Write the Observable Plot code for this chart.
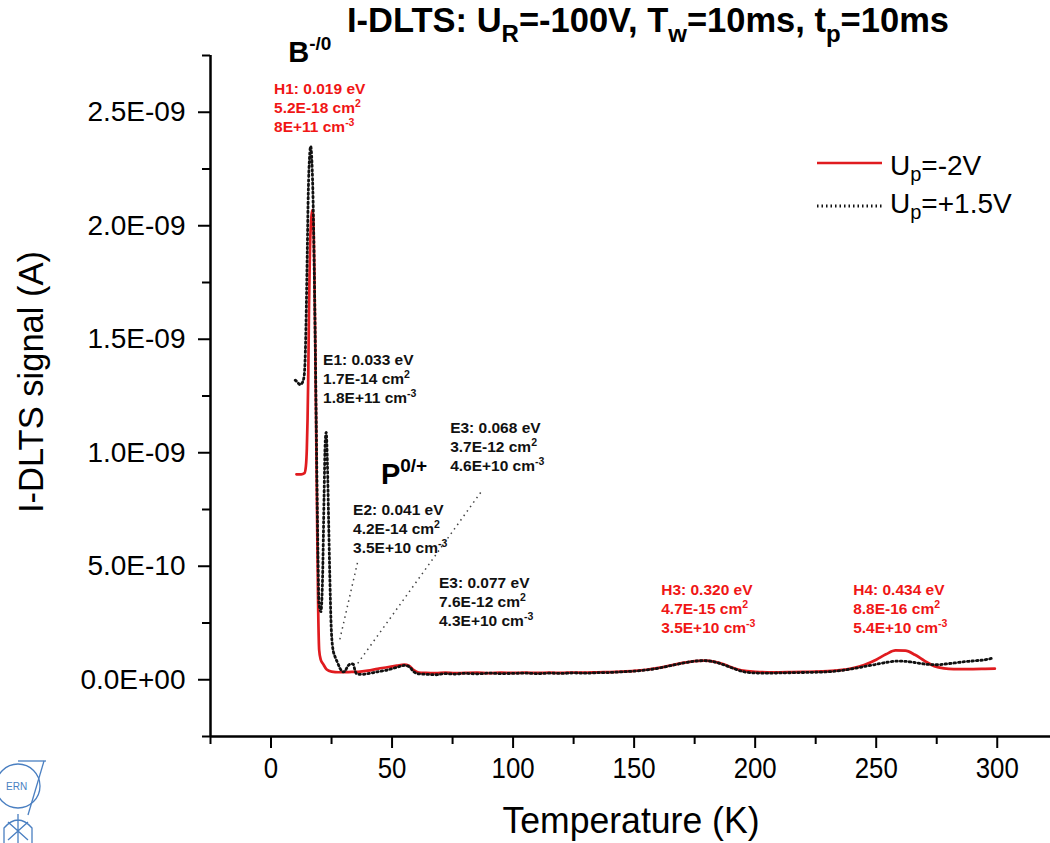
<!DOCTYPE html>
<html><head><meta charset="utf-8">
<script src="https://cdn.jsdelivr.net/npm/d3@7"></script>
<script src="https://cdn.jsdelivr.net/npm/@observablehq/plot@0.6"></script>
<style>
body{margin:0;background:#fff;}
#chart svg{display:block;}
</style></head><body><div id="chart"></div>
<script>
// ---- data: U_p = -2 V (red, solid) ----
const redT = [10.5,12.5,13.8,14.4,14.8,15.1,15.4,15.7,16.1,16.6,17.1,17.5,17.9,18.3,18.7,19.1,19.5,19.9,20.5,21.5,23,25,28,32,36,40,44,48,52,55,57,59,61,64,68,72,76,80,85,90,95,100,105,110,115,120,125,130,135,140,145,150,155,160,165,170,175,179,183,187,191,195,200,205,210,215,220,225,230,235,240,245,250,254,258,262,266,270,274,278,282,286,290,295,299];
const redV = [9.05e-10,9.05e-10,9.1e-10,9.4e-10,1.02e-9,1.15e-9,1.35e-9,1.65e-9,1.90e-9,2.03e-9,2.07e-9,2.02e-9,1.80e-9,1.45e-9,1.05e-9,6.5e-10,3.0e-10,1.3e-10,9.0e-11,7.0e-11,4.5e-11,3.6e-11,3.3e-11,3.4e-11,3.5e-11,4.0e-11,4.8e-11,5.5e-11,6.2e-11,6.7e-11,6.2e-11,4.2e-11,3.2e-11,3.0e-11,2.9e-11,3.1e-11,2.9e-11,3.0e-11,3.1e-11,2.9e-11,3.1e-11,3.0e-11,3.1e-11,3.0e-11,3.1e-11,3.0e-11,3.2e-11,3.1e-11,3.3e-11,3.4e-11,3.6e-11,3.9e-11,4.4e-11,5.2e-11,6.3e-11,7.4e-11,8.2e-11,8.4e-11,8.0e-11,6.8e-11,5.2e-11,4.0e-11,3.5e-11,3.3e-11,3.3e-11,3.4e-11,3.5e-11,3.6e-11,3.8e-11,4.2e-11,5.0e-11,6.5e-11,8.8e-11,1.12e-10,1.29e-10,1.28e-10,1.10e-10,8.3e-11,6.0e-11,5.0e-11,4.7e-11,4.7e-11,4.7e-11,4.8e-11,4.9e-11];

// ---- data: U_p = +1.5 V (black, dotted) ----
const blackT = [10,11,12,13,13.7,14.2,14.6,15.0,15.4,15.9,16.4,16.9,17.4,17.8,18.2,18.6,19.0,19.4,19.8,20.6,21.3,21.9,22.4,22.8,23.3,23.8,24.3,24.8,25.5,26.5,27.5,28.5,29.7,30.5,31.2,32.2,33.2,34.0,34.6,35.2,36.5,38,40,44,48,52,55,57,59,61,64,68,72,76,80,85,90,95,100,105,110,115,120,125,130,135,140,145,150,155,160,165,170,175,179,183,187,191,195,200,205,210,215,220,225,230,235,240,245,250,255,259,263,267,271,275,279,283,287,291,295,298];
const blackV = [1.32e-9,1.31e-9,1.30e-9,1.31e-9,1.34e-9,1.45e-9,1.65e-9,1.90e-9,2.15e-9,2.30e-9,2.35e-9,2.28e-9,2.10e-9,1.85e-9,1.55e-9,1.20e-9,8.5e-10,5.5e-10,3.4e-10,3.0e-10,4.5e-10,8.0e-10,1.05e-9,1.09e-9,9.5e-10,7.0e-10,4.5e-10,2.5e-10,1.4e-10,1.0e-10,7.5e-11,5.0e-11,3.5e-11,3.6e-11,5.0e-11,6.6e-11,7.0e-11,6.8e-11,4.5e-11,2.8e-11,2.4e-11,2.4e-11,2.7e-11,3.5e-11,4.3e-11,5.5e-11,6.3e-11,5.8e-11,3.5e-11,2.6e-11,2.4e-11,2.2e-11,2.7e-11,2.5e-11,2.8e-11,2.6e-11,2.9e-11,2.7e-11,2.8e-11,2.9e-11,2.7e-11,2.9e-11,2.8e-11,3.0e-11,2.9e-11,3.1e-11,3.2e-11,3.5e-11,3.8e-11,4.3e-11,5.1e-11,6.2e-11,7.3e-11,8.2e-11,8.4e-11,7.9e-11,6.6e-11,5.0e-11,3.6e-11,3.0e-11,2.9e-11,3.0e-11,3.1e-11,3.2e-11,3.3e-11,3.5e-11,4.0e-11,4.8e-11,5.8e-11,6.8e-11,7.8e-11,8.2e-11,8.0e-11,7.4e-11,6.8e-11,6.6e-11,7.0e-11,7.5e-11,8.0e-11,8.4e-11,8.8e-11,9.5e-11];

// ---- axes ----
const xDomain = [-25, 322];
const yDomain = [-2.5e-10, 2.75e-9];
const xMajorTicks = [0, 50, 100, 150, 200, 250, 300];
const xMinorTicks = [-25, 25, 75, 125, 175, 225, 275];
const yMajorTicks = [0, 5e-10, 1e-9, 1.5e-9, 2e-9, 2.5e-9];
const yMinorTicks = [-2.5e-10, 2.5e-10, 7.5e-10, 1.25e-9, 1.75e-9, 2.25e-9, 2.75e-9];
const xLabel = "Temperature (K)";
const yLabel = "I-DLTS signal (A)";
const titleParts = ["I-DLTS: U", "_R", "=-100V, T", "_w", "=10ms, t", "_p", "=10ms"];
const legendParts = [["U", "_p", "=-2V"], ["U", "_p", "=+1.5V"]];

// ---- peak annotations (anchor = first baseline, in data units) ----
const annoT = [1.45, 21.7, 74.2, 34.1, 69.6, 161.4, 240.7];
const annoV = [2.577e-9, 1.383e-9, 1.084e-9, 7.22e-10, 4.01e-10, 3.70e-10, 3.70e-10];
const annoRed = [true, false, false, false, false, true, true];
const annoLines = [
  [["H1: 0.019 eV"], ["5.2E-18 cm", "^2"], ["8E+11 cm", "^-3"]],
  [["E1: 0.033 eV"], ["1.7E-14 cm", "^2"], ["1.8E+11 cm", "^-3"]],
  [["E3: 0.068 eV"], ["3.7E-12 cm", "^2"], ["4.6E+10 cm", "^-3"]],
  [["E2: 0.041 eV"], ["4.2E-14 cm", "^2"], ["3.5E+10 cm", "^-3"]],
  [["E3: 0.077 eV"], ["7.6E-12 cm", "^2"], ["4.3E+10 cm", "^-3"]],
  [["H3: 0.320 eV"], ["4.7E-15 cm", "^2"], ["3.5E+10 cm", "^-3"]],
  [["H4: 0.434 eV"], ["8.8E-16 cm", "^2"], ["5.4E+10 cm", "^-3"]]
];
// defect labels
const defectT = [7.3, 45.6];
const defectV = [2.718e-9, 8.59e-10];
const defectParts = [["B", "^-/0"], ["P", "^0/+"]];
// dotted leader lines
const leaderT1 = [35.7, 86.6];
const leaderV1 = [5.15e-10, 8.25e-10];
const leaderT2 = [28.3, 35.7];
const leaderV2 = [1.72e-10, 7.05e-11];

const RED_LINE = "#e01b1f";
const RED_TEXT = "#f01616";
const DOTS = "1.5,3";

function fmtE(d) {
  if (d === 0) return "0.0E+00";
  const e = Math.floor(Math.log10(Math.abs(d)) + 1e-9);
  const m = d / Math.pow(10, e);
  return m.toFixed(1) + "E" + (e < 0 ? "-" : "+") + String(Math.abs(e)).padStart(2, "0");
}

const redRows = redT.map((t, i) => ({T: t, V: redV[i]}));
const blackRows = blackT.map((t, i) => ({T: t, V: blackV[i]}));
const leaders = leaderT1.map((t, i) => ({T1: t, V1: leaderV1[i], T2: leaderT2[i], V2: leaderV2[i]}));

const plot = Plot.plot({
  width: 1050, height: 843,
  marginLeft: 210, marginRight: 0, marginTop: 55, marginBottom: 107,
  style: {fontFamily: "'Liberation Sans', Arial, sans-serif", background: "#fff", overflow: "visible", color: "#000"},
  x: {domain: xDomain},
  y: {domain: yDomain},
  marks: [
    Plot.axisX({ticks: xMinorTicks, tickSize: 8, tickFormat: () => "", label: null}),
    Plot.axisX({ticks: xMajorTicks, tickSize: 12, tickPadding: 9, fontSize: 29, tickFormat: d => String(d), label: null}),
    Plot.axisY({ticks: yMinorTicks, tickSize: 8, tickFormat: () => "", label: null}),
    Plot.axisY({ticks: yMajorTicks, tickSize: 12, tickPadding: 13, fontSize: 28, tickFormat: fmtE, label: null}),
    Plot.ruleX([xDomain[0]], {strokeWidth: 2.5}),
    Plot.ruleY([yDomain[0]], {strokeWidth: 2.5}),
    Plot.link(leaders, {x1: "T1", y1: "V1", x2: "T2", y2: "V2", stroke: "#444", strokeWidth: 1.5, strokeDasharray: "1.5,4"}),
    Plot.line(redRows, {x: "T", y: "V", stroke: RED_LINE, strokeWidth: 2.7, curve: "monotone-x"}),
    Plot.line(blackRows, {x: "T", y: "V", stroke: "#111", strokeWidth: 2.8, strokeDasharray: DOTS, curve: "monotone-x"})
  ]
});
document.getElementById("chart").appendChild(plot);

const svg = d3.select(plot);
svg.selectAll("[aria-label$='tick'] path").attr("stroke-width", 2).attr("stroke", "#000");
svg.selectAll("[aria-label='x-axis tick label'] text").each(function () {
  const w = this.getComputedTextLength();
  this.setAttribute("textLength", w * 0.89);
  this.setAttribute("lengthAdjust", "spacingAndGlyphs");
});

const sx = plot.scale("x"), sy = plot.scale("y");
const g = svg.append("g").attr("font-family", "'Liberation Sans', Arial, sans-serif").attr("text-anchor", "start");

// rich text: "^x" superscript, "_x" subscript
function rich(parent, x, y, parts, size, weight, color, opts = {}) {
  const supSize = opts.supSize || size * 0.68;
  const supUp = opts.supUp || size * 0.42;
  const subDown = opts.subDown || size * 0.28;
  const t = parent.append("text").attr("x", x).attr("y", y)
    .attr("font-size", size).attr("font-weight", weight).attr("fill", color)
    .attr("text-anchor", opts.anchor || "start");
  let cur = 0;
  parts.forEach(p => {
    let off = 0, fs = size, txt = p;
    if (p[0] === "^") { off = -supUp; fs = supSize; txt = p.slice(1); }
    else if (p[0] === "_") { off = subDown; fs = supSize; txt = p.slice(1); }
    t.append("tspan").attr("dy", off - cur).attr("font-size", fs).text(txt);
    cur = off;
  });
  return t;
}

// title
rich(g, 347, 32, titleParts, 34.5, "bold", "#000", {supSize: 24, subDown: 10});

// annotations
annoLines.forEach((lines, i) => {
  const x0 = sx.apply(annoT[i]), y0 = sy.apply(annoV[i]);
  lines.forEach((parts, j) => {
    rich(g, x0, y0 + j * 19, parts, 15.5, "bold", annoRed[i] ? RED_TEXT : "#111", {supSize: 10.5, supUp: 6.5});
  });
});
defectParts.forEach((parts, i) => {
  rich(g, sx.apply(defectT[i]), sy.apply(defectV[i]), parts, 29, "bold", "#000", {supSize: 19, supUp: 12});
});

// legend
const lg = g.append("g");
lg.append("line").attr("x1", 817).attr("x2", 882).attr("y1", 163).attr("y2", 163).attr("stroke", RED_LINE).attr("stroke-width", 2.7);
lg.append("line").attr("x1", 817).attr("x2", 882).attr("y1", 206).attr("y2", 206).attr("stroke", "#111").attr("stroke-width", 2.8).attr("stroke-dasharray", DOTS);
rich(lg, 890, 175, legendParts[0], 28, "normal", "#000", {supSize: 20, subDown: 6});
rich(lg, 890, 213, legendParts[1], 28, "normal", "#000", {supSize: 20, subDown: 6});

// axis titles
const xl = g.append("text").attr("x", 631).attr("y", 833).attr("text-anchor", "middle").attr("font-size", 37).attr("fill", "#000").text(xLabel);
xl.attr("textLength", 257).attr("lengthAdjust", "spacingAndGlyphs");
g.append("text").attr("transform", "translate(43,382) rotate(-90)").attr("text-anchor", "middle").attr("font-size", 34.5).attr("fill", "#000").text(yLabel);

// CERN logo fragment (decorative)
const logo = g.append("g").attr("stroke", "#4a7fc1").attr("fill", "none").attr("stroke-width", 1.3);
logo.append("circle").attr("cx", 18).attr("cy", 786).attr("r", 22);
logo.append("line").attr("x1", 18).attr("y1", 761).attr("x2", 46).attr("y2", 761);
logo.append("line").attr("x1", 44).attr("y1", 761).attr("x2", 28).attr("y2", 815);
logo.append("path").attr("d", "M4,843 L4,828 Q18,812 32,828 L32,843 M18,814 L18,843 M8,822 L28,840 M28,822 L8,840");
g.append("text").attr("x", 6).attr("y", 790).attr("text-anchor", "start").attr("font-size", 10).attr("fill", "#4a7fc1").text("ERN");
</script>
</body></html>
